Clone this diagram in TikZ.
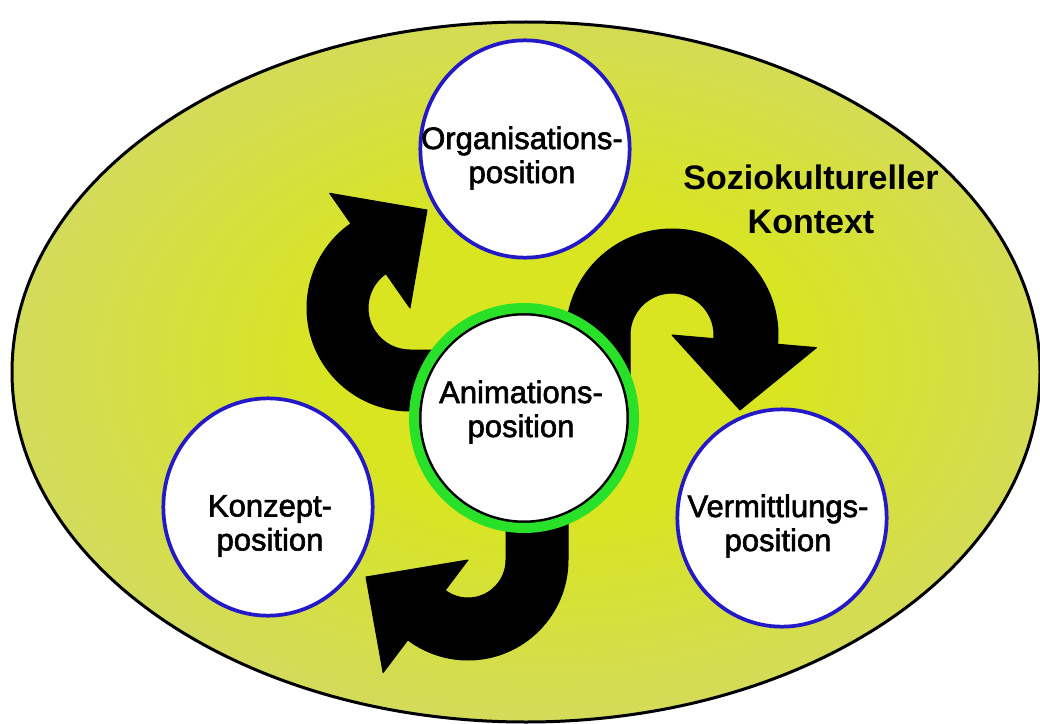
\documentclass[tikz,border=0pt]{standalone}
\usepackage{fontspec}
\setmainfont{Liberation Sans}
\newfontfamily\posfont{Liberation Sans}[FakeBold=2]
\usetikzlibrary{shapes.geometric}
\definecolor{kbright}{RGB}{216,229,32}
\definecolor{kdull}{RGB}{208,212,132}
\definecolor{posblue}{RGB}{35,25,200}
\definecolor{ringgreen}{RGB}{40,225,40}
\pgfdeclareradialshading{kontextshade}{\pgfpoint{2bp}{1bp}}{color(0bp)=(kbright); color(11bp)=(kbright); color(36bp)=(kdull); color(50bp)=(kdull)}

\begin{document}
\begin{tikzpicture}[x=0.75pt,y=0.75pt,yscale=-1,xscale=1,
  posnode/.style={ellipse, draw=posblue, fill=white, line width=2.8pt, minimum width=157pt, minimum height=163pt, inner sep=0pt},
  animnode/.style={circle, draw=black, fill=white, line width=2.25pt, minimum size=156pt, inner sep=0pt},
  postext/.style={align=center, inner sep=0pt, font=\posfont\fontsize{23.25pt}{25.5pt}\selectfont},
  bigarrow/.style={fill=black, draw=black, line width=0.75pt, line join=round}]
\useasboundingbox (0,0) rectangle (1040,724);

% Context Ellipse
\shadedraw [shading=kontextshade, line width=2.25pt] (526,372) ellipse [x radius=514, y radius=350];

% Curved Arrow: left
\begin{scope}[shift={(410,308)}]
\filldraw [bigarrow] (60,103) -- (90:103) arc [start angle=90, end angle=235, radius=103] -- (235:140) -- (17,-98) -- (0,0) -- (235:42) arc [start angle=235, end angle=90, radius=42] -- (60,42) -- cycle;
\end{scope}
% Curved Arrow: right
\begin{scope}[shift={(672,335)}]
\filldraw [bigarrow] (-106,65) -- (180:106) arc [start angle=180, end angle=365, radius=106] -- (365:145) -- (68,75) -- (0,0) -- (365:42) arc [start angle=365, end angle=180, radius=42] -- (-42,65) -- cycle;
\end{scope}
% Curved Arrow: bottom
\begin{scope}[shift={(468,560)}]
\filldraw [bigarrow] (100,-80) -- (0:100) arc [start angle=0, end angle=127, radius=100] -- (127:141) -- (-102,17) -- (0,0) -- (127:38) arc [start angle=127, end angle=0, radius=38] -- (38,-80) -- cycle;
\end{scope}

% Position Nodes
\node (org) [posnode] at (525,149) {};
\node (konz) [posnode] at (268,507) {};
\node (verm) [posnode] at (782,518) {};
\node (anim) [animnode] at (524,418) {};
\draw [ringgreen, line width=7.5pt] (anim.center) circle [radius=110];

% Text Nodes
\node (orgtext) [postext] at (522,158) {Organisations-\\position};
\node (animtext) [postext] at (521,412) {Animations-\\position};
\node (konztext) [postext] at (270,526) {Konzept-\\position};
\node (vermtext) [postext] at (778,526) {Vermittlungs-\\position};
\node (kontext) [align=center, inner sep=0pt, font=\fontsize{25.5pt}{33pt}\selectfont\bfseries] at (811,199) {Soziokultureller\\Kontext};

\end{tikzpicture}
\end{document}
